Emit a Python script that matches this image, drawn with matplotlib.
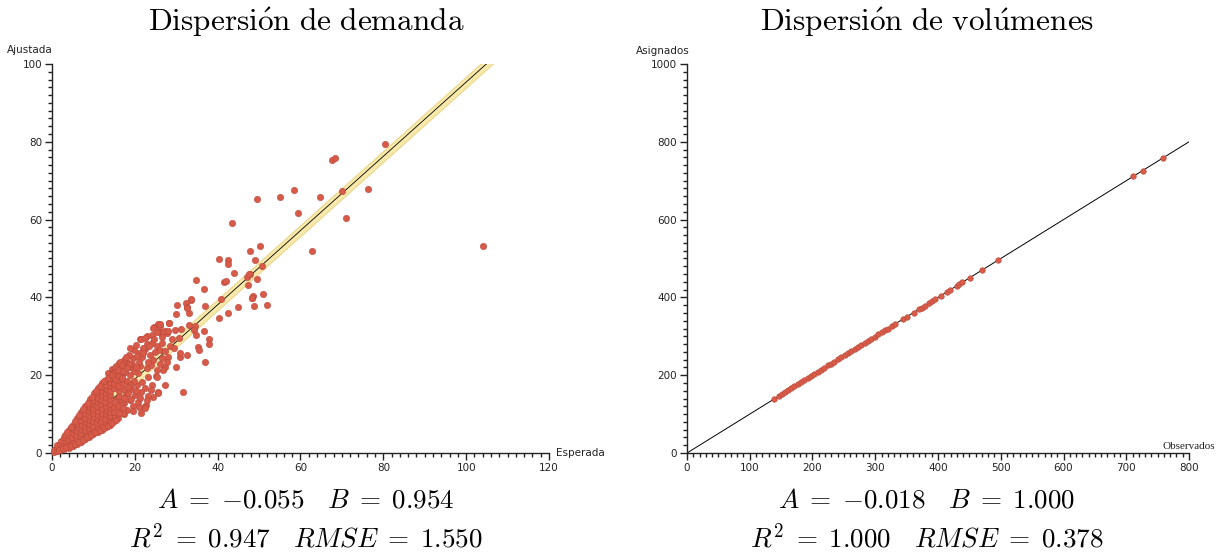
import matplotlib.pyplot as plt
import numpy as np
from matplotlib.ticker import MultipleLocator

plt.rcParams['mathtext.fontset'] = 'cm'
plt.rcParams['font.family'] = ['DejaVu Sans']

# --- Dispersion de demanda: (esperada, ajustada) ---
demanda_outliers = [
    (104.1, 53.1), (80.3, 79.4), (67.7, 75.4), (68.4, 75.8), (49.4, 65.4),
    (55.1, 65.9), (58.5, 67.5), (64.6, 65.9), (70.1, 67.3), (76.4, 67.8),
    (59.5, 61.7), (71.1, 60.5), (50.3, 53.1), (62.7, 51.9), (47.8, 51.9),
    (49.0, 49.6), (50.6, 48.0), (47.8, 46.0), (49.4, 44.7), (51.0, 40.8),
    (48.6, 40.4), (48.4, 39.8), (48.8, 37.8), (52.0, 38.0), (43.5, 59.1),
    (40.3, 49.9), (42.5, 49.6), (42.5, 48.7), (44.0, 46.4), (47.0, 45.3),
    (47.6, 45.9), (34.8, 44.5), (41.5, 44.0), (42.1, 44.3), (36.8, 42.2),
    (33.6, 39.4), (30.1, 38.0), (32.3, 38.6), (32.5, 37.5), (37.0, 37.8),
    (40.9, 39.6), (44.8, 37.5), (48.3, 39.9), (47.4, 43.1), (29.9, 35.7),
    (33.1, 36.1), (42.5, 36.1), (40.3, 34.7), (28.2, 33.3), (25.6, 33.2),
    (26.1, 32.6), (24.6, 32.5), (33.0, 32.9), (34.6, 32.6), (34.4, 31.6),
    (31.1, 31.8), (30.6, 29.5), (36.6, 31.4), (34.8, 30.3), (37.9, 29.3),
    (37.8, 28.0), (21.2, 29.3), (27.2, 31.4), (24.1, 30.3), (25.9, 31.2),
    (27.8, 30.9), (29.1, 29.3), (35.2, 27.2), (35.4, 26.5), (32.7, 25.2),
    (36.9, 23.5), (31.0, 24.6), (30.0, 22.0), (31.6, 15.7), (27.4, 22.2),
    (26.8, 21.3), (25.1, 19.7), (27.2, 17.4), (25.6, 15.7), (24.1, 17.5),
    (22.5, 16.6), (24.4, 14.5), (23.3, 14.7), (22.6, 12.3), (22.2, 11.7),
    (17.3, 10.0), (33.5, 39.5), (32.7, 37.4), (28.3, 33.3), (26.2, 33.1),
    (24.5, 32.2), (25.3, 31.2), (26.9, 31.2), (28.1, 31.4), (29.7, 31.6),
]

demanda_medio = [
    (21.4, 29.4), (22.9, 28.0), (24.1, 28.4), (25.3, 27.5), (26.5, 28.2),
    (28.5, 27.5), (22.5, 26.7), (21.1, 25.8), (19.6, 24.3), (21.7, 24.8),
    (23.7, 25.2), (24.5, 23.9), (26.5, 24.3), (28.1, 24.8), (30.9, 25.6),
    (18.0, 23.5), (17.2, 22.2), (19.2, 22.2), (21.2, 22.4), (22.9, 21.8),
    (25.3, 21.3), (15.6, 20.9), (16.8, 20.1), (18.8, 20.1), (20.8, 20.5),
    (23.3, 19.6), (25.3, 19.6), (16.5, 11.5), (17.5, 12.8), (18.2, 11.0),
    (18.8, 13.6), (19.5, 12.2), (20.1, 14.8), (20.8, 13.1), (21.5, 15.7),
    (19.0, 16.5), (20.5, 17.5), (21.8, 18.2), (17.8, 15.2), (25.6, 15.3),
    (22.4, 11.5), (17.1, 10.4), (19.9, 26.4), (18.6, 25.1), (17.4, 24.0),
    (20.4, 27.8), (23.0, 30.1), (16.3, 23.2), (19.7, 18.4), (17.0, 17.9),
    (23.9, 22.7), (16.0, 18.8), (18.1, 18.6), (15.8, 14.0), (16.9, 13.2),
    (13.5, 20.5), (14.5, 21.5), (15.5, 22.4), (16.5, 23.4), (15.2, 21.8),
    (16.8, 22.6), (17.8, 24.6), (18.9, 26.9), (19.4, 23.0), (20.6, 24.9),
    (21.9, 27.0), (22.4, 29.6), (23.4, 27.4), (21.0, 23.5), (19.8, 21.0),
    (18.5, 22.8), (17.6, 20.8), (20.2, 22.2), (22.0, 25.8), (24.8, 26.0),
    (26.0, 26.6), (27.4, 26.2), (23.2, 23.5), (26.0, 23.0), (27.7, 23.4),
    (24.6, 29.3), (26.6, 29.9), (29.5, 27.0), (16.3, 14.6), (17.4, 14.1),
    (18.4, 15.4), (19.2, 14.0), (20.4, 15.9), (21.2, 14.2), (22.9, 13.5),
    (23.8, 16.2), (19.6, 10.8), (20.9, 11.9), (21.6, 10.4), (18.9, 17.6),
    (14.8, 20.9), (16.1, 20.6), (17.3, 16.4), (15.4, 9.6), (16.6, 12.4),
]

demanda_denso = [
    (0.4, 0.3), (0.6, 0.8), (1.1, 0.5), (1.2, 1.3), (1.3, 2.0),
    (2.0, 0.7), (2.1, 1.5), (1.9, 2.4), (2.2, 3.1), (3.0, 1.0),
    (2.9, 2.0), (3.1, 3.0), (3.0, 4.0), (3.2, 4.7), (4.0, 1.3),
    (4.1, 2.4), (3.9, 3.5), (4.0, 4.6), (4.2, 5.8), (5.0, 1.8),
    (5.1, 2.9), (4.9, 4.0), (5.0, 5.1), (5.2, 6.2), (5.0, 7.3),
    (6.0, 2.3), (6.1, 3.4), (5.9, 4.5), (6.0, 5.6), (6.2, 6.7),
    (6.0, 7.8), (6.1, 8.9), (7.0, 2.9), (7.1, 4.0), (6.9, 5.1),
    (7.0, 6.2), (7.2, 7.3), (7.0, 8.4), (6.9, 9.5), (7.1, 10.6),
    (8.0, 3.6), (8.1, 4.7), (7.9, 5.8), (8.0, 6.9), (8.2, 8.0),
    (8.0, 9.1), (7.9, 10.2), (8.1, 11.3), (8.0, 12.2), (9.0, 4.2),
    (9.1, 5.3), (8.9, 6.4), (9.0, 7.5), (9.2, 8.6), (9.0, 9.7),
    (8.9, 10.8), (9.1, 11.9), (9.0, 13.0), (9.2, 13.8), (10.0, 4.8),
    (10.1, 5.9), (9.9, 7.0), (10.0, 8.1), (10.2, 9.2), (10.0, 10.3),
    (9.9, 11.4), (10.1, 12.5), (10.0, 13.6), (10.2, 14.7), (10.1, 15.5),
    (11.0, 5.4), (11.1, 6.5), (10.9, 7.6), (11.0, 8.7), (11.2, 9.8),
    (11.0, 10.9), (10.9, 12.0), (11.1, 13.1), (11.0, 14.2), (11.2, 15.3),
    (11.0, 16.6), (12.0, 6.0), (12.1, 7.1), (11.9, 8.2), (12.0, 9.3),
    (12.2, 10.4), (12.0, 11.5), (11.9, 12.6), (12.1, 13.7), (12.0, 14.8),
    (12.2, 15.9), (12.0, 17.0), (12.1, 18.0), (13.0, 6.6), (13.1, 7.7),
    (12.9, 8.8), (13.0, 9.9), (13.2, 11.0), (13.0, 12.1), (12.9, 13.2),
    (13.1, 14.3), (13.0, 15.4), (13.2, 16.5), (13.0, 17.6), (13.1, 18.8),
    (14.0, 7.2), (14.1, 8.3), (13.9, 9.4), (14.0, 10.5), (14.2, 11.6),
    (14.0, 12.7), (13.9, 13.8), (14.1, 14.9), (14.0, 16.0), (14.2, 17.1),
    (14.0, 18.2), (14.1, 19.4), (15.0, 8.2), (15.1, 9.4), (14.9, 10.6),
    (15.0, 11.8), (15.2, 13.0), (15.0, 16.6), (14.9, 17.8), (15.1, 19.0),
    (15.0, 20.5), (16.0, 9.0), (16.1, 10.4), (15.9, 12.0), (16.1, 16.0),
    (16.0, 17.2), (16.2, 19.8), (16.0, 21.4), (17.1, 11.6), (17.0, 19.4),
    (17.2, 21.0), (18.0, 21.8), (18.3, 17.0), (1.6, 0.9), (2.6, 1.2),
    (3.5, 1.5), (4.5, 1.9), (5.5, 2.4), (6.5, 2.8), (7.5, 3.4),
    (8.5, 4.1), (9.5, 4.6), (10.5, 5.3), (11.5, 5.8), (12.5, 6.4),
    (13.5, 7.0), (14.5, 7.7), (15.5, 8.5), (3.6, 5.4), (4.6, 6.8),
    (5.6, 8.2), (6.6, 9.8), (7.6, 11.4), (8.6, 12.8), (9.6, 14.4),
    (10.6, 15.9), (11.6, 17.2), (12.6, 18.4), (13.6, 19.2), (14.6, 20.0),
]

esperada = [p[0] for p in demanda_outliers + demanda_medio + demanda_denso]
ajustada = [p[1] for p in demanda_outliers + demanda_medio + demanda_denso]

A_dem, B_dem, R2_dem, RMSE_dem = -0.055, 0.954, 0.947, 1.550

# --- Dispersion de volumenes: (observados, asignados) ---
observados = [
    139, 147, 151, 156, 161, 166, 171, 177, 182, 187, 193, 198, 203, 209,
    214, 219, 225, 230, 235, 241, 246, 251, 257, 262, 267, 273, 278, 283,
    289, 294, 299, 305, 310, 315, 320, 326, 331, 345, 350, 361, 369, 374,
    379, 385, 390, 395, 404, 414, 419, 430, 434, 439, 451, 470, 496,
    711, 726, 758,
]
asignados = [
    139, 147, 151, 156, 161, 166, 171, 177, 182, 187, 193, 198, 203, 209,
    214, 219, 225, 230, 235, 241, 246, 251, 257, 262, 267, 273, 278, 283,
    289, 294, 299, 305, 310, 315, 320, 326, 331, 345, 350, 361, 369, 374,
    379, 385, 390, 395, 404, 414, 419, 430, 434, 439, 451, 470, 496,
    711, 726, 758,
]

A_vol, B_vol, R2_vol, RMSE_vol = -0.018, 1.000, 1.000, 0.378

RED = '#d85a48'
RED_EDGE = '#b84a3c'


def style_axes(ax, xmax, xmaj, xmin, ymax, ymaj, ymin):
    ax.set_xlim(0, xmax)
    ax.set_ylim(0, ymax)
    for s in ['top', 'right']:
        ax.spines[s].set_visible(False)
    for s in ['left', 'bottom']:
        ax.spines[s].set_color('#222222')
        ax.spines[s].set_linewidth(1.0)
    ax.xaxis.set_major_locator(MultipleLocator(xmaj))
    ax.xaxis.set_minor_locator(MultipleLocator(xmin))
    ax.yaxis.set_major_locator(MultipleLocator(ymaj))
    ax.yaxis.set_minor_locator(MultipleLocator(ymin))
    ax.tick_params(which='major', length=5, width=1, color='#222222',
                   labelsize=7.5, labelcolor='#222222', pad=2)
    ax.tick_params(which='minor', length=3, width=1, color='#222222')


def stats_text(a, b, r2, rmse):
    line1 = r'$A\;=\;{%.3f}\quad B\;=\;{%.3f}$' % (a, b)
    line2 = r'$R^2\;=\;{%.3f}\quad RMSE\;=\;{%.3f}$' % (r2, rmse)
    return line1, line2


fig = plt.figure(figsize=(12.17, 5.54), dpi=100)

# left chart
ax1 = fig.add_axes([0.0427, 0.1823, 0.4084, 0.7022])
style_axes(ax1, 120, 20, 2, 100, 20, 2)
xl = np.array([0, 120])
yl = A_dem + B_dem * xl
ax1.fill_between(xl, yl - 1.4, yl + 1.4, color='#f8e9aa', ec='#ead78e',
                 lw=0.8, zorder=1)
ax1.plot(xl, yl, color='black', lw=0.6, zorder=2)
ax1.scatter(esperada, ajustada, s=21, c=RED, edgecolors=RED_EDGE,
            linewidths=0.4, zorder=3, clip_on=False)
ax1.text(-0.044, 1.036, 'Ajustada', transform=ax1.transAxes, fontsize=7.5,
         ha='center', va='center', color='#222222')
ax1.text(1.014, 0.0, 'Esperada', transform=ax1.transAxes, fontsize=7.5,
         ha='left', va='center', color='#222222')

# right chart
ax2 = fig.add_axes([0.5645, 0.1823, 0.4125, 0.7022])
style_axes(ax2, 800, 100, 10, 1000, 200, 20)
xr = np.array([0, 800])
ax2.plot(xr, A_vol + B_vol * xr, color='black', lw=0.7, zorder=2)
ax2.scatter(observados, asignados, s=16, c=RED, edgecolors=RED_EDGE,
            linewidths=0.4, zorder=3)
ax2.text(-0.048, 1.033, 'Asignados', transform=ax2.transAxes, fontsize=7.5,
         ha='center', va='center', color='#222222')
ax2.text(1.052, 0.018, 'Observados', transform=ax2.transAxes, fontsize=8,
         ha='right', va='center', color='#222222', family='Liberation Serif')

# titles and stats
fig.text(306 / 1217, 1 - 22 / 554, r'$\mathrm{Dispersi\acute{o}n\ de\ demanda}$',
         ha='center', va='center', fontsize=22.5)
fig.text(927 / 1217, 1 - 22 / 554, r'$\mathrm{Dispersi\acute{o}n\ de\ vol\acute{u}menes}$',
         ha='center', va='center', fontsize=22.5)

for cx, vals in [(306, (A_dem, B_dem, R2_dem, RMSE_dem)),
                 (927, (A_vol, B_vol, R2_vol, RMSE_vol))]:
    l1, l2 = stats_text(*vals)
    fig.text(cx / 1217, 1 - 500 / 554, l1, ha='center', va='center', fontsize=19.5)
    fig.text(cx / 1217, 1 - 538 / 554, l2, ha='center', va='center', fontsize=19.5)

fig.savefig('out.png', dpi=100)
